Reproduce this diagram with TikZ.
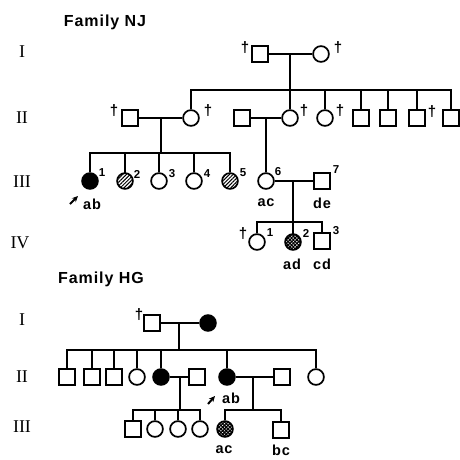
\documentclass[tikz,border=0pt]{standalone}
\usepackage{fontspec}
\setmainfont{Liberation Serif}
\newfontfamily\labfont[LetterSpace=6]{Liberation Sans}
\usetikzlibrary{patterns.meta,arrows.meta}
\begin{document}
\begin{tikzpicture}[x=1pt,y=-1pt,
  ln/.style={line width=1.7pt},
  male/.style={draw,line width=1.7pt,rectangle,minimum size=15.5pt,inner sep=0pt},
  female/.style={draw,line width=1.7pt,circle,minimum size=15.8pt,inner sep=0pt},
  aff/.style={fill=black},
  hatch/.style={pattern={Lines[angle=45,distance=2.6pt,line width=1pt]}},
  xhatch/.style={pattern={Hatch[angle=45,distance=2.5pt,line width=1.2pt]}},
  dag/.style={font=\labfont\bfseries\fontsize{15}{15}\selectfont,inner sep=0pt},
  num/.style={font=\labfont\bfseries\fontsize{11.5}{11.5}\selectfont,inner sep=0pt},
  lab/.style={font=\labfont\bfseries\fontsize{14.5}{14.5}\selectfont,inner sep=0pt},
  gen/.style={font=\fontsize{18}{18}\selectfont,inner sep=0pt},
  fam/.style={font=\labfont\bfseries\fontsize{16}{16}\selectfont,inner sep=0pt},
  proarrow/.style={-{Stealth[length=6pt,width=5.5pt]},line width=2pt}]
\useasboundingbox[fill=white] (0,0) rectangle (460,459);

% ================= Family NJ =================
\node[fam] (famNJ) at (105,22) {Family NJ};
\node[gen] (gNJ1) at (22,52) {I};
\node[gen] (gNJ2) at (22,118) {II};
\node[gen] (gNJ3) at (22,182) {III};
\node[gen] (gNJ4) at (20,243) {IV};

% generation I
\node[male] (a1) at (260,54) {};
\node[female] (a2) at (321,54) {};
\node[dag] (da1) at (245,48) {†};
\node[dag] (da2) at (338,48) {†};
\draw[ln] (a1) -- (a2);
\coordinate (ma) at (290,54);
\coordinate (sa) at (290,90);
\draw[ln] (ma) -- (sa);

% generation II
\node[male] (b1) at (130,118) {};
\node[female] (b2) at (191,118) {};
\node[male] (b3) at (242,118) {};
\node[female] (b4) at (290,118) {};
\node[female] (b5) at (325,118) {};
\node[male] (b6) at (361,118) {};
\node[male] (b7) at (388,118) {};
\node[male] (b8) at (417,118) {};
\node[male] (b9) at (451,118) {};
\node[dag] (db1) at (114,111) {†};
\node[dag] (db2) at (208,111) {†};
\node[dag] (db4) at (304,111) {†};
\node[dag] (db5) at (340,111) {†};
\node[dag] (db8) at (432,112) {†};
\draw[ln] (b2.north) |- (b9.north |- sa) -- (b9.north);
\foreach \c in {b4,b5,b6,b7,b8} \draw[ln] (\c.north) -- (\c.north |- sa);
\draw[ln] (b1) -- (b2);
\coordinate (mb) at (161,118);
\coordinate (sb) at (161,153);
\draw[ln] (mb) -- (sb);
\draw[ln] (b3) -- (b4);
\coordinate (mc) at (266,118);

% generation III
\node[female,aff] (c1) at (90,181) {};
\node[female,hatch] (c2) at (125,181) {};
\node[female] (c3) at (159,181) {};
\node[female] (c4) at (194,181) {};
\node[female,hatch] (c5) at (230,181) {};
\node[num] (nc1) at (102,173) {1};
\node[num] (nc2) at (137,174) {2};
\node[num] (nc3) at (172,174) {3};
\node[num] (nc4) at (207,174) {4};
\node[num] (nc5) at (243,173) {5};
\draw[ln] (c1.north) |- (c5.north |- sb) -- (c5.north);
\foreach \c in {c2,c3,c4} \draw[ln] (\c.north) -- (\c.north |- sb);
\coordinate (arA) at (70,204);
\draw[proarrow] (arA) -- ++(8,-8);
\node[lab] (lc1) at (92,204) {ab};

\node[female] (c6) at (266,181) {};
\node[male] (c7) at (322,181) {};
\node[num] (nc6) at (278,172) {6};
\node[num] (nc7) at (336,170) {7};
\draw[ln] (mc) -- (c6.north);
\draw[ln] (c6) -- (c7);
\coordinate (md) at (293,181);
\coordinate (sd) at (293,222);
\draw[ln] (md) -- (sd);
\node[lab] (lc6) at (266,203) {ac};
\node[lab] (lc7) at (322,203) {de};

% generation IV
\node[female] (e1) at (257,242) {};
\node[female,xhatch] (e2) at (293,242) {};
\node[male] (e3) at (322,241) {};
\node[dag] (de1) at (243,234) {†};
\node[num] (ne1) at (270,233) {1};
\node[num] (ne2) at (306,233) {2};
\node[num] (ne3) at (336,231) {3};
\draw[ln] (e1.north) |- (e3.north |- sd) -- (e3.north);
\draw[ln] (e2.north) -- (e2.north |- sd);
\node[lab] (le2) at (292,264) {ad};
\node[lab] (le3) at (322,264) {cd};

% ================= Family HG =================
\node[fam] (famHG) at (101,279) {Family HG};
\node[gen] (gHG1) at (22,320) {I};
\node[gen] (gHG2) at (22,377) {II};
\node[gen] (gHG3) at (22,427) {III};

% generation I
\node[male] (f1) at (152,323) {};
\node[female,aff] (f2) at (208,323) {};
\node[dag] (df1) at (139,315) {†};
\draw[ln] (f1) -- (f2);
\coordinate (mf) at (179,323);
\coordinate (sf) at (179,350);
\draw[ln] (mf) -- (sf);

% generation II
\node[male] (g1) at (67,377) {};
\node[male] (g2) at (92,377) {};
\node[male] (g3) at (114,377) {};
\node[female] (g4) at (137,377) {};
\node[female,aff] (g5) at (161,377) {};
\node[male] (g6) at (197,377) {};
\node[female,aff] (g7) at (227,377) {};
\node[male] (g8) at (282,377) {};
\node[female] (g9) at (316,377) {};
\draw[ln] (g1.north) |- (g9.north |- sf) -- (g9.north);
\foreach \c in {g2,g3,g4,g5,g7} \draw[ln] (\c.north) -- (\c.north |- sf);
\draw[ln] (g5) -- (g6);
\coordinate (mg) at (180,377);
\coordinate (sg) at (180,410);
\draw[ln] (mg) -- (sg);
\draw[ln] (g7) -- (g8);
\coordinate (mh) at (253,377);
\coordinate (sh) at (253,410);
\draw[ln] (mh) -- (sh);
\coordinate (arB) at (208,404);
\draw[proarrow] (arB) -- ++(7,-8);
\node[lab] (lg7) at (231,398) {ab};

% generation III
\node[male] (h1) at (133,429) {};
\node[female] (h2) at (155,429) {};
\node[female] (h3) at (178,429) {};
\node[female] (h4) at (200,429) {};
\draw[ln] (h1.north) |- (h4.north |- sg) -- (h4.north);
\foreach \c in {h2,h3} \draw[ln] (\c.north) -- (\c.north |- sg);
\node[female,xhatch] (h5) at (225,429) {};
\node[male] (h6) at (281,430) {};
\draw[ln] (h5.north) |- (h6.north |- sh) -- (h6.north);
\node[lab] (lh5) at (224,450) {ac};
\node[lab] (lh6) at (281,450) {bc};
\end{tikzpicture}
\end{document}
